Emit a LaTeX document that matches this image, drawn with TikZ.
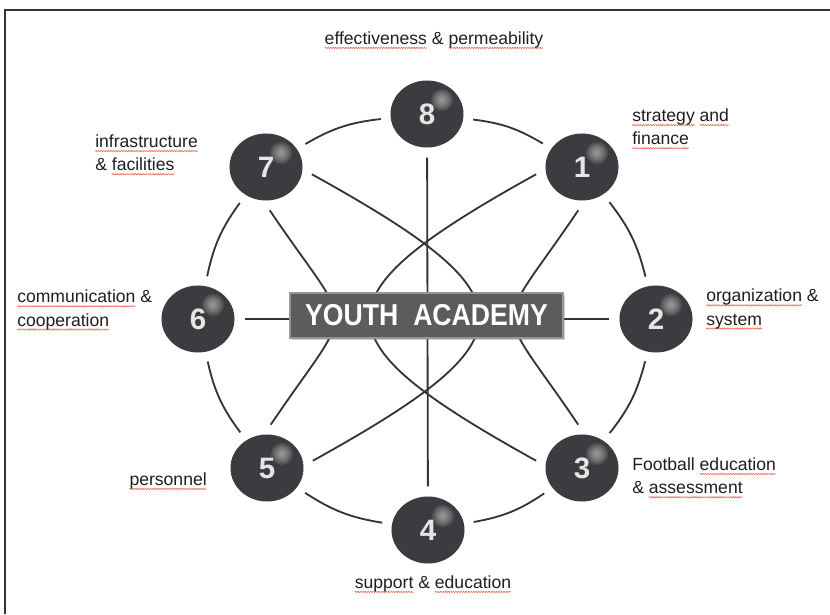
\documentclass[tikz,border=0pt]{standalone}
\usepackage{fontspec}
\setmainfont{Liberation Sans}
\newfontfamily\hubfont{Liberation Sans}[FakeStretch=0.88]
\usetikzlibrary{shapes.geometric, shadows, decorations.pathmorphing}
\definecolor{yaBall}{RGB}{60, 60, 64}
\definecolor{yaLine}{RGB}{52, 52, 52}
\definecolor{yaBox}{RGB}{92, 92, 94}
\definecolor{yaBoxEdge}{RGB}{150, 150, 150}
\definecolor{yaSpell}{RGB}{236, 108, 78}

% wavy spell-check underline
\newcommand{\squig}[1]{\setbox0=\hbox{#1}\rlap{\tikz[overlay, baseline=0pt]
  \draw[yaSpell, line width=0.45pt, decorate, decoration={snake, amplitude=0.45pt, segment length=1.8pt}]
  (0pt,-2.4pt) -- (\wd0,-2.4pt);}\box0\relax}

\tikzset{
  ball/.style={ellipse, fill=yaBall, minimum width=1.825cm, minimum height=1.675cm,
    inner sep=0pt, outer sep=0.25cm, text=white!90!black,
    font=\fontsize{21}{21}\selectfont\bfseries,
    path picture={
      \foreach \r in {11,9,7,5,3}
        \fill[white, opacity=0.11]
          ([xshift=0.375cm, yshift=0.35cm]path picture bounding box.center) circle (\r);}},
  link/.style={line width=1.3pt, draw=yaLine},
  hub/.style={rectangle, fill=yaBox, draw=yaBoxEdge, line width=1pt,
    minimum width=6.825cm, minimum height=1.125cm, text=white,
    font=\hubfont\fontsize{21.5}{21.5}\selectfont\bfseries,
    drop shadow={shadow xshift=1.2pt, shadow yshift=-1.2pt, opacity=0.35}},
  areaname/.style={align=left, inner sep=0pt, text=black!88,
    font=\fontsize{12.5}{16.5}\selectfont}
}

\begin{document}
\begin{tikzpicture}[x=0.025cm, y=0.025cm]
\useasboundingbox (0,0) rectangle (830,614);
\fill[white] (0,0) rectangle (830,614);
\draw[line width=1.4pt, yaLine] (5,0) -- (5,604) -- (830,604);

% the eight areas
\node[ball] (n8) at (427,500) {8};
\node[ball] (n1) at (582,447) {1};
\node[ball] (n2) at (656,295) {2};
\node[ball] (n3) at (582,146) {3};
\node[ball] (n4) at (428,84) {4};
\node[ball] (n5) at (267,146) {5};
\node[ball] (n6) at (198,295) {6};
\node[ball] (n7) at (266,447) {7};

% outer ring
\foreach \a/\b in {8/1, 1/2, 2/3, 3/4, 4/5, 5/6, 6/7, 7/8}
  \draw[link] (n\a) to[bend left=12] (n\b);

% spokes and cross curves
\draw[link] (n8) -- (n4);
\draw[link] (n6) -- (n2);
\draw[link] (n7.-9) to[out=-29, in=29, looseness=2.27] (n5.9);
\draw[link] (n1.189) to[out=209, in=151, looseness=2.27] (n3.171);
\draw[link] (n7.-85) to[out=-56, in=56, looseness=1.84] (n5.85);
\draw[link] (n1.-95) to[out=-124, in=124, looseness=1.84] (n3.95);

\node[hub] (hub) at (426.5,298.5) {YOUTH\hspace{0.25em} ACADEMY};

% area names
\node[areaname] (t8) at (434,574) {\squig{effectiveness} \& \squig{permeability}};
\node[areaname, anchor=west] (t1) at (632,487) {\squig{strategy} \squig{and}\\\squig{finance}};
\node[areaname, anchor=west] (t2) at (706,305) {\squig{organization} \&\\\squig{system}};
\node[areaname, anchor=west] (t3) at (632,138) {Football \squig{education}\\\& \squig{assessment}};
\node[areaname] (t4) at (433,30) {\squig{support} \& \squig{education}};
\node[areaname, anchor=east] (t5) at (207,133) {\squig{personnel}};
\node[areaname, anchor=west] (t6) at (17,304) {\squig{communication} \&\\\squig{cooperation}};
\node[areaname, anchor=west] (t7) at (95,461) {\squig{infrastructure}\\\& \squig{facilities}};
\end{tikzpicture}
\end{document}
